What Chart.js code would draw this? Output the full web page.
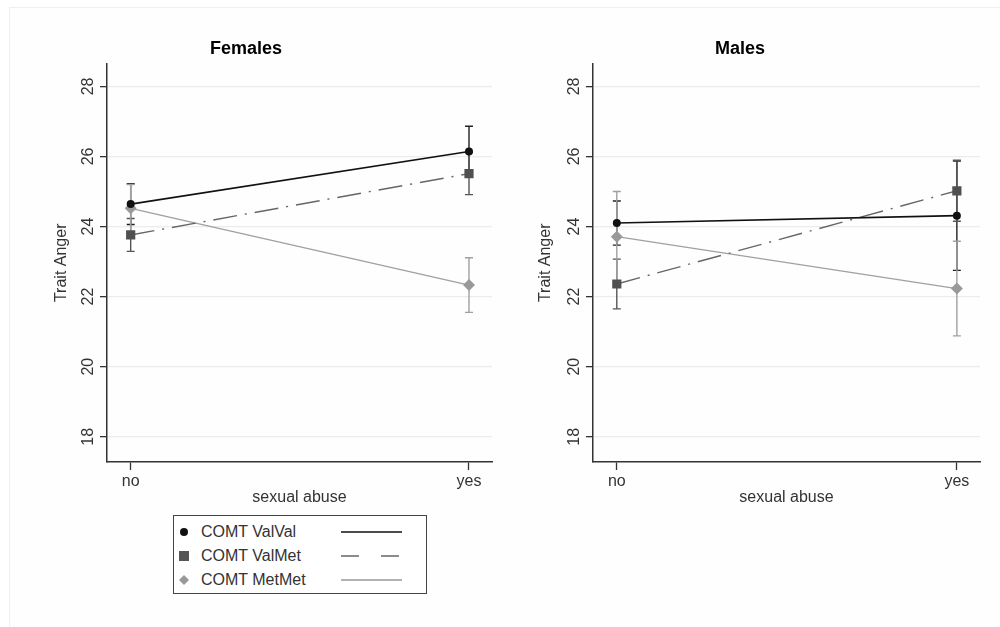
<!DOCTYPE html>
<html>
<head>
<meta charset="utf-8">
<script src="https://cdn.jsdelivr.net/npm/chart.js@4"></script>
<style>
  body { margin: 0; background: #fff; width: 1000px; height: 627px; position: relative; overflow: hidden;
         font-family: "Liberation Sans", Arial, sans-serif; }
  .frame { position: absolute; left: 9px; top: 7px; right: -5px; bottom: -5px; border: 1px solid #f0f0f0; background: #fefefe; }
  .panel { position: absolute; top: 0; width: 500px; height: 510px; }
  .legend { position: absolute; left: 173px; top: 515px; width: 252px; height: 77px; border: 1px solid #444; background: #fff; }
  .legend .lbl { position: absolute; left: 27px; font-size: 16px; color: #333; line-height: 20px; }
  .legend svg { position: absolute; left: 0; top: 0; }
</style>
</head>
<body>
<div class="frame"></div>
<div class="panel" style="left:0"><canvas id="females" width="500" height="510"></canvas></div>
<div class="panel" style="left:500px"><canvas id="males" width="500" height="510"></canvas></div>
<div class="legend">
  <svg width="252" height="77">
    <circle cx="10" cy="16" r="4" fill="#111"/>
    <rect x="5" y="35" width="10" height="10" fill="#555"/>
    <polygon points="10,59 15,64 10,69 5,64" fill="#999"/>
    <line x1="167" y1="16" x2="228" y2="16" stroke="#111" stroke-width="1.5"/>
    <line x1="167" y1="40" x2="228" y2="40" stroke="#666" stroke-width="1.3" stroke-dasharray="18 22"/>
    <line x1="167" y1="64" x2="228" y2="64" stroke="#999" stroke-width="1.3"/>
  </svg>
  <div class="lbl" style="top:6px">COMT ValVal</div>
  <div class="lbl" style="top:30px">COMT ValMet</div>
  <div class="lbl" style="top:54px">COMT MetMet</div>
</div>
<script>
const abuseLabels = ["no", "yes"];
const genotypes = ["COMT ValVal", "COMT ValMet", "COMT MetMet"];
const yTicks = [18, 20, 22, 24, 26, 28];

// means and half-width of error bars, order: no, yes
const femValVal = [24.64, 26.14];
const femValValErr = [0.58, 0.72];
const femValMet = [23.76, 25.51];
const femValMetErr = [0.47, 0.6];
const femMetMet = [24.52, 22.33];
const femMetMetErr = [0.68, 0.78];

const maleValVal = [24.10, 24.31];
const maleValValErr = [0.63, 1.56];
const maleValMet = [22.36, 25.02];
const maleValMetErr = [0.71, 0.87];
const maleMetMet = [23.71, 22.23];
const maleMetMetErr = [1.29, 1.35];

const styles = [
  { color: "#111", bar: "#222", dash: [], point: "circle", r: 4, width: 1.6 },
  { color: "#666", bar: "#555", dash: [24, 8, 2, 8], point: "rect", r: 6.5, width: 1.4, fill: "#505050" },
  { color: "#a0a0a0", bar: "#a0a0a0", dash: [], point: "rectRot", r: 6, width: 1.3, fill: "#999" },
];

const errorBars = {
  id: "errorBars",
  beforeDatasetsDraw(chart) {
    const ctx = chart.ctx;
    const y = chart.scales.y;
    chart.data.datasets.forEach((ds, i) => {
      const meta = chart.getDatasetMeta(i);
      ctx.save();
      ctx.strokeStyle = ds.errColor;
      ctx.lineWidth = 1.4;
      meta.data.forEach((pt, j) => {
        const top = y.getPixelForValue(ds.data[j].y + ds.err[j]);
        const bot = y.getPixelForValue(ds.data[j].y - ds.err[j]);
        ctx.beginPath();
        ctx.moveTo(pt.x, top);
        ctx.lineTo(pt.x, bot);
        ctx.moveTo(pt.x - 4, top);
        ctx.lineTo(pt.x + 4, top);
        ctx.moveTo(pt.x - 4, bot);
        ctx.lineTo(pt.x + 4, bot);
        ctx.stroke();
      });
      ctx.restore();
    });
  },
};

const makeChart = (id, title, series, errs, axisWidth, rightPad, titlePad) => {
  const datasets = series.map((vals, i) => {
    const s = styles[i];
    return {
      label: genotypes[i],
      data: vals.map((v, j) => ({ x: j, y: v })),
      err: errs[i],
      errColor: s.bar,
      borderColor: s.color,
      borderWidth: s.width,
      borderDash: s.dash,
      pointStyle: s.point,
      pointRadius: s.r,
      pointBackgroundColor: s.fill || s.color,
      pointBorderColor: s.fill || s.color,
      pointBorderWidth: 0,
      tension: 0,
    };
  });
  return new Chart(document.getElementById(id), {
    type: "line",
    data: { datasets },
    plugins: [errorBars],
    options: {
      responsive: false,
      animation: false,
      layout: { padding: { left: 0, right: rightPad, top: 0, bottom: 0 } },
      plugins: {
        legend: { display: false },
        tooltip: { enabled: false },
        title: {
          display: true,
          text: title,
          color: "#000",
          font: { family: "Liberation Sans", size: 18, weight: "bold", lineHeight: 1.2 },
          padding: { top: 38, bottom: 4 },
        },
      },
      scales: {
        x: {
          type: "linear",
          min: -0.07,
          max: 1.068,
          afterBuildTicks: (scale) => {
            scale.ticks = abuseLabels.map((l, i) => ({ value: i }));
          },
          afterFit: (scale) => {
            scale.height = 48;
          },
          ticks: {
            callback: (v) => abuseLabels[v],
            color: "#333",
            font: { family: "Liberation Sans", size: 16 },
            padding: 2,
            maxRotation: 0,
          },
          grid: { drawOnChartArea: false, drawTicks: true, tickLength: 8, tickColor: "#333", tickWidth: 1.3 },
          border: { color: "#333", width: 1.5 },
          title: {
            display: true,
            text: "sexual abuse",
            color: "#333",
            font: { family: "Liberation Sans", size: 16, lineHeight: 1.2 },
            padding: { top: 0, bottom: 3 },
          },
        },
        y: {
          min: 17.28,
          max: 28.65,
          afterBuildTicks: (scale) => {
            scale.ticks = yTicks.map((v) => ({ value: v }));
          },
          afterFit: (scale) => {
            scale.width = axisWidth;
          },
          ticks: {
            color: "#333",
            font: { family: "Liberation Sans", size: 16 },
            minRotation: 90,
            maxRotation: 90,
            crossAlign: "center",
            padding: 3,
          },
          grid: { color: "#ececec", lineWidth: 1.3, tickLength: 7, tickColor: "#333", tickWidth: 1.3 },
          border: { color: "#333", width: 1.5 },
          title: {
            display: true,
            text: "Trait Anger",
            color: "#333",
            font: { family: "Liberation Sans", size: 16, lineHeight: 1.2 },
            padding: { top: titlePad, bottom: 0 },
          },
        },
      },
    },
  });
};

makeChart("females", "Females",
  [femValVal, femValMet, femMetMet],
  [femValValErr, femValMetErr, femMetMetErr], 107, 8, 52);
makeChart("males", "Males",
  [maleValVal, maleValMet, maleMetMet],
  [maleValValErr, maleValMetErr, maleMetMetErr], 93, 20, 36);
</script>
</body>
</html>
